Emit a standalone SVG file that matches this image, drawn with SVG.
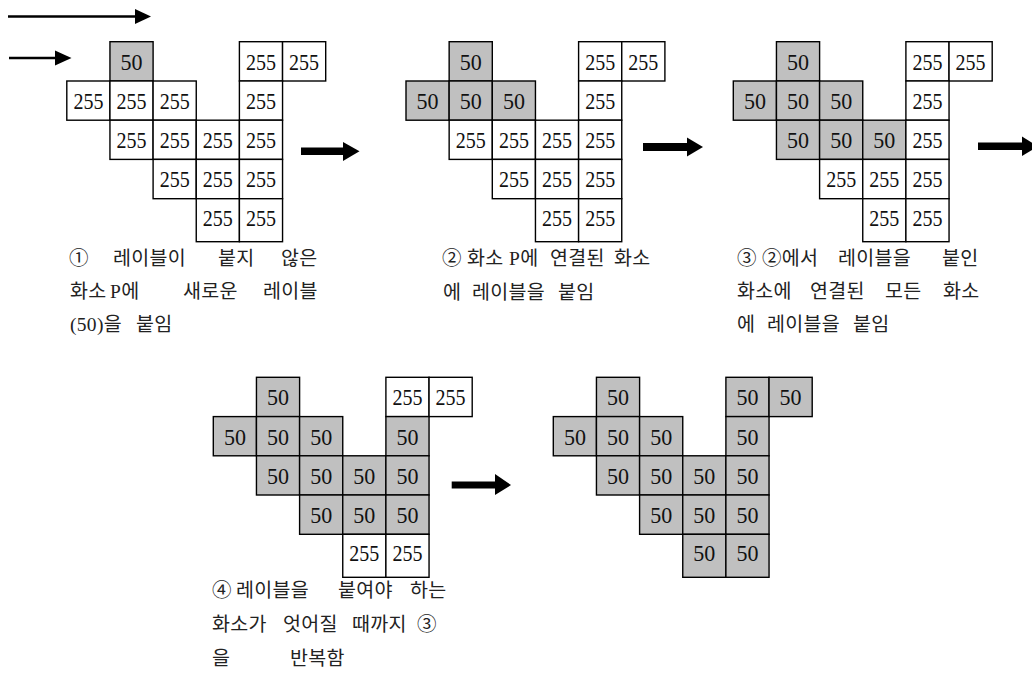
<svg xmlns="http://www.w3.org/2000/svg" width="1032" height="675" viewBox="0 0 1032 675">
<style>
.w{fill:#ffffff;stroke:#000;stroke-width:1.4}
.g{fill:#c0c0c0;stroke:#000;stroke-width:1.4}
.n{font-family:"Liberation Serif","Times New Roman",serif;font-size:24px;fill:#111;text-anchor:middle}
.cap{font-family:"Liberation Serif","Noto Sans CJK KR",serif;font-size:19.5px;letter-spacing:0.3px;fill:#222}
.ln{stroke:#000;stroke-width:2.6;fill:none}
.hd{fill:#000}
</style>
<rect width="1032" height="675" fill="#ffffff"/>

<g id="panel1" transform="translate(66.8,41.7)">
<rect class="g" x="43.15" y="0" width="43.15" height="39.3"/>
<rect class="w" x="172.6" y="0" width="43.15" height="39.3"/>
<rect class="w" x="215.75" y="0" width="43.15" height="39.3"/>
<rect class="w" x="0" y="39.3" width="43.15" height="39.2"/>
<rect class="w" x="43.15" y="39.3" width="43.15" height="39.2"/>
<rect class="w" x="86.3" y="39.3" width="43.15" height="39.2"/>
<rect class="w" x="172.6" y="39.3" width="43.15" height="39.2"/>
<rect class="w" x="43.15" y="78.5" width="43.15" height="39.2"/>
<rect class="w" x="86.3" y="78.5" width="43.15" height="39.2"/>
<rect class="w" x="129.45" y="78.5" width="43.15" height="39.2"/>
<rect class="w" x="172.6" y="78.5" width="43.15" height="39.2"/>
<rect class="w" x="86.3" y="117.7" width="43.15" height="39.3"/>
<rect class="w" x="129.45" y="117.7" width="43.15" height="39.3"/>
<rect class="w" x="172.6" y="117.7" width="43.15" height="39.3"/>
<rect class="w" x="129.45" y="157" width="43.15" height="43"/>
<rect class="w" x="172.6" y="157" width="43.15" height="43"/>
<text class="n" x="64.7" y="28" textLength="22" lengthAdjust="spacingAndGlyphs">50</text>
<text class="n" x="194.2" y="28" textLength="30" lengthAdjust="spacingAndGlyphs">255</text>
<text class="n" x="237.3" y="28" textLength="30" lengthAdjust="spacingAndGlyphs">255</text>
<text class="n" x="21.6" y="67.3" textLength="30" lengthAdjust="spacingAndGlyphs">255</text>
<text class="n" x="64.7" y="67.3" textLength="30" lengthAdjust="spacingAndGlyphs">255</text>
<text class="n" x="107.9" y="67.3" textLength="30" lengthAdjust="spacingAndGlyphs">255</text>
<text class="n" x="194.2" y="67.3" textLength="30" lengthAdjust="spacingAndGlyphs">255</text>
<text class="n" x="64.7" y="106.5" textLength="30" lengthAdjust="spacingAndGlyphs">255</text>
<text class="n" x="107.9" y="106.5" textLength="30" lengthAdjust="spacingAndGlyphs">255</text>
<text class="n" x="151" y="106.5" textLength="30" lengthAdjust="spacingAndGlyphs">255</text>
<text class="n" x="194.2" y="106.5" textLength="30" lengthAdjust="spacingAndGlyphs">255</text>
<text class="n" x="107.9" y="145.7" textLength="30" lengthAdjust="spacingAndGlyphs">255</text>
<text class="n" x="151" y="145.7" textLength="30" lengthAdjust="spacingAndGlyphs">255</text>
<text class="n" x="194.2" y="145.7" textLength="30" lengthAdjust="spacingAndGlyphs">255</text>
<text class="n" x="151" y="184" textLength="30" lengthAdjust="spacingAndGlyphs">255</text>
<text class="n" x="194.2" y="184" textLength="30" lengthAdjust="spacingAndGlyphs">255</text>
</g>
<g id="caption1" class="cap">
<text x="69" y="265">①</text><text x="113" y="265">레이블이</text><text x="218" y="265">붙지</text><text x="281" y="265">않은</text>
<text x="70" y="298">화소</text><text x="110" y="298">P에</text><text x="183" y="298">새로운</text><text x="263" y="298">레이블</text>
<text x="70" y="331">(50)을</text><text x="136" y="331">붙임</text>
</g>

<g id="panel2" transform="translate(406,41.7)">
<rect class="g" x="43.15" y="0" width="43.15" height="39.3"/>
<rect class="w" x="172.6" y="0" width="43.15" height="39.3"/>
<rect class="w" x="215.75" y="0" width="43.15" height="39.3"/>
<rect class="g" x="0" y="39.3" width="43.15" height="39.2"/>
<rect class="g" x="43.15" y="39.3" width="43.15" height="39.2"/>
<rect class="g" x="86.3" y="39.3" width="43.15" height="39.2"/>
<rect class="w" x="172.6" y="39.3" width="43.15" height="39.2"/>
<rect class="w" x="43.15" y="78.5" width="43.15" height="39.2"/>
<rect class="w" x="86.3" y="78.5" width="43.15" height="39.2"/>
<rect class="w" x="129.45" y="78.5" width="43.15" height="39.2"/>
<rect class="w" x="172.6" y="78.5" width="43.15" height="39.2"/>
<rect class="w" x="86.3" y="117.7" width="43.15" height="39.3"/>
<rect class="w" x="129.45" y="117.7" width="43.15" height="39.3"/>
<rect class="w" x="172.6" y="117.7" width="43.15" height="39.3"/>
<rect class="w" x="129.45" y="157" width="43.15" height="43"/>
<rect class="w" x="172.6" y="157" width="43.15" height="43"/>
<text class="n" x="64.7" y="28" textLength="22" lengthAdjust="spacingAndGlyphs">50</text>
<text class="n" x="194.2" y="28" textLength="30" lengthAdjust="spacingAndGlyphs">255</text>
<text class="n" x="237.3" y="28" textLength="30" lengthAdjust="spacingAndGlyphs">255</text>
<text class="n" x="21.6" y="67.3" textLength="22" lengthAdjust="spacingAndGlyphs">50</text>
<text class="n" x="64.7" y="67.3" textLength="22" lengthAdjust="spacingAndGlyphs">50</text>
<text class="n" x="107.9" y="67.3" textLength="22" lengthAdjust="spacingAndGlyphs">50</text>
<text class="n" x="194.2" y="67.3" textLength="30" lengthAdjust="spacingAndGlyphs">255</text>
<text class="n" x="64.7" y="106.5" textLength="30" lengthAdjust="spacingAndGlyphs">255</text>
<text class="n" x="107.9" y="106.5" textLength="30" lengthAdjust="spacingAndGlyphs">255</text>
<text class="n" x="151" y="106.5" textLength="30" lengthAdjust="spacingAndGlyphs">255</text>
<text class="n" x="194.2" y="106.5" textLength="30" lengthAdjust="spacingAndGlyphs">255</text>
<text class="n" x="107.9" y="145.7" textLength="30" lengthAdjust="spacingAndGlyphs">255</text>
<text class="n" x="151" y="145.7" textLength="30" lengthAdjust="spacingAndGlyphs">255</text>
<text class="n" x="194.2" y="145.7" textLength="30" lengthAdjust="spacingAndGlyphs">255</text>
<text class="n" x="151" y="184" textLength="30" lengthAdjust="spacingAndGlyphs">255</text>
<text class="n" x="194.2" y="184" textLength="30" lengthAdjust="spacingAndGlyphs">255</text>
</g>
<g id="caption2" class="cap">
<text x="442" y="265">②</text><text x="467" y="265">화소</text><text x="509" y="265">P에</text><text x="550" y="265">연결된</text><text x="614" y="265">화소</text>
<text x="443" y="299">에</text><text x="472" y="299">레이블을</text><text x="558" y="299">붙임</text>
</g>

<g id="panel3" transform="translate(733.3,41.7)">
<rect class="g" x="43.15" y="0" width="43.15" height="39.3"/>
<rect class="w" x="172.6" y="0" width="43.15" height="39.3"/>
<rect class="w" x="215.75" y="0" width="43.15" height="39.3"/>
<rect class="g" x="0" y="39.3" width="43.15" height="39.2"/>
<rect class="g" x="43.15" y="39.3" width="43.15" height="39.2"/>
<rect class="g" x="86.3" y="39.3" width="43.15" height="39.2"/>
<rect class="w" x="172.6" y="39.3" width="43.15" height="39.2"/>
<rect class="g" x="43.15" y="78.5" width="43.15" height="39.2"/>
<rect class="g" x="86.3" y="78.5" width="43.15" height="39.2"/>
<rect class="g" x="129.45" y="78.5" width="43.15" height="39.2"/>
<rect class="w" x="172.6" y="78.5" width="43.15" height="39.2"/>
<rect class="w" x="86.3" y="117.7" width="43.15" height="39.3"/>
<rect class="w" x="129.45" y="117.7" width="43.15" height="39.3"/>
<rect class="w" x="172.6" y="117.7" width="43.15" height="39.3"/>
<rect class="w" x="129.45" y="157" width="43.15" height="43"/>
<rect class="w" x="172.6" y="157" width="43.15" height="43"/>
<text class="n" x="64.7" y="28" textLength="22" lengthAdjust="spacingAndGlyphs">50</text>
<text class="n" x="194.2" y="28" textLength="30" lengthAdjust="spacingAndGlyphs">255</text>
<text class="n" x="237.3" y="28" textLength="30" lengthAdjust="spacingAndGlyphs">255</text>
<text class="n" x="21.6" y="67.3" textLength="22" lengthAdjust="spacingAndGlyphs">50</text>
<text class="n" x="64.7" y="67.3" textLength="22" lengthAdjust="spacingAndGlyphs">50</text>
<text class="n" x="107.9" y="67.3" textLength="22" lengthAdjust="spacingAndGlyphs">50</text>
<text class="n" x="194.2" y="67.3" textLength="30" lengthAdjust="spacingAndGlyphs">255</text>
<text class="n" x="64.7" y="106.5" textLength="22" lengthAdjust="spacingAndGlyphs">50</text>
<text class="n" x="107.9" y="106.5" textLength="22" lengthAdjust="spacingAndGlyphs">50</text>
<text class="n" x="151" y="106.5" textLength="22" lengthAdjust="spacingAndGlyphs">50</text>
<text class="n" x="194.2" y="106.5" textLength="30" lengthAdjust="spacingAndGlyphs">255</text>
<text class="n" x="107.9" y="145.7" textLength="30" lengthAdjust="spacingAndGlyphs">255</text>
<text class="n" x="151" y="145.7" textLength="30" lengthAdjust="spacingAndGlyphs">255</text>
<text class="n" x="194.2" y="145.7" textLength="30" lengthAdjust="spacingAndGlyphs">255</text>
<text class="n" x="151" y="184" textLength="30" lengthAdjust="spacingAndGlyphs">255</text>
<text class="n" x="194.2" y="184" textLength="30" lengthAdjust="spacingAndGlyphs">255</text>
</g>
<g id="caption3" class="cap">
<text x="737" y="265">③</text><text x="762" y="265">②에서</text><text x="838" y="265">레이블을</text><text x="942" y="265">붙인</text>
<text x="737" y="298">화소에</text><text x="810" y="298">연결된</text><text x="885" y="298">모든</text><text x="943" y="298">화소</text>
<text x="737" y="331">에</text><text x="767" y="331">레이블을</text><text x="853" y="331">붙임</text>
</g>

<g id="panel4" transform="translate(213.3,377.3)">
<rect class="g" x="43.15" y="0" width="43.15" height="39.3"/>
<rect class="w" x="172.6" y="0" width="43.15" height="39.3"/>
<rect class="w" x="215.75" y="0" width="43.15" height="39.3"/>
<rect class="g" x="0" y="39.3" width="43.15" height="39.2"/>
<rect class="g" x="43.15" y="39.3" width="43.15" height="39.2"/>
<rect class="g" x="86.3" y="39.3" width="43.15" height="39.2"/>
<rect class="g" x="172.6" y="39.3" width="43.15" height="39.2"/>
<rect class="g" x="43.15" y="78.5" width="43.15" height="39.2"/>
<rect class="g" x="86.3" y="78.5" width="43.15" height="39.2"/>
<rect class="g" x="129.45" y="78.5" width="43.15" height="39.2"/>
<rect class="g" x="172.6" y="78.5" width="43.15" height="39.2"/>
<rect class="g" x="86.3" y="117.7" width="43.15" height="39.3"/>
<rect class="g" x="129.45" y="117.7" width="43.15" height="39.3"/>
<rect class="g" x="172.6" y="117.7" width="43.15" height="39.3"/>
<rect class="w" x="129.45" y="157" width="43.15" height="43"/>
<rect class="w" x="172.6" y="157" width="43.15" height="43"/>
<text class="n" x="64.7" y="28" textLength="22" lengthAdjust="spacingAndGlyphs">50</text>
<text class="n" x="194.2" y="28" textLength="30" lengthAdjust="spacingAndGlyphs">255</text>
<text class="n" x="237.3" y="28" textLength="30" lengthAdjust="spacingAndGlyphs">255</text>
<text class="n" x="21.6" y="67.3" textLength="22" lengthAdjust="spacingAndGlyphs">50</text>
<text class="n" x="64.7" y="67.3" textLength="22" lengthAdjust="spacingAndGlyphs">50</text>
<text class="n" x="107.9" y="67.3" textLength="22" lengthAdjust="spacingAndGlyphs">50</text>
<text class="n" x="194.2" y="67.3" textLength="22" lengthAdjust="spacingAndGlyphs">50</text>
<text class="n" x="64.7" y="106.5" textLength="22" lengthAdjust="spacingAndGlyphs">50</text>
<text class="n" x="107.9" y="106.5" textLength="22" lengthAdjust="spacingAndGlyphs">50</text>
<text class="n" x="151" y="106.5" textLength="22" lengthAdjust="spacingAndGlyphs">50</text>
<text class="n" x="194.2" y="106.5" textLength="22" lengthAdjust="spacingAndGlyphs">50</text>
<text class="n" x="107.9" y="145.7" textLength="22" lengthAdjust="spacingAndGlyphs">50</text>
<text class="n" x="151" y="145.7" textLength="22" lengthAdjust="spacingAndGlyphs">50</text>
<text class="n" x="194.2" y="145.7" textLength="22" lengthAdjust="spacingAndGlyphs">50</text>
<text class="n" x="151" y="184" textLength="30" lengthAdjust="spacingAndGlyphs">255</text>
<text class="n" x="194.2" y="184" textLength="30" lengthAdjust="spacingAndGlyphs">255</text>
</g>
<g id="caption4" class="cap">
<text x="212" y="597">④</text><text x="236" y="597">레이블을</text><text x="338" y="597">붙여야</text><text x="410" y="597">하는</text>
<text x="212" y="631">화소가</text><text x="283" y="631">엇어질</text><text x="352" y="631">때까지</text><text x="417" y="631">③</text>
<text x="212" y="665">을</text><text x="290" y="665">반복함</text>
</g>

<g id="panel5" transform="translate(553.3,377.3)">
<rect class="g" x="43.15" y="0" width="43.15" height="39.3"/>
<rect class="g" x="172.6" y="0" width="43.15" height="39.3"/>
<rect class="g" x="215.75" y="0" width="43.15" height="39.3"/>
<rect class="g" x="0" y="39.3" width="43.15" height="39.2"/>
<rect class="g" x="43.15" y="39.3" width="43.15" height="39.2"/>
<rect class="g" x="86.3" y="39.3" width="43.15" height="39.2"/>
<rect class="g" x="172.6" y="39.3" width="43.15" height="39.2"/>
<rect class="g" x="43.15" y="78.5" width="43.15" height="39.2"/>
<rect class="g" x="86.3" y="78.5" width="43.15" height="39.2"/>
<rect class="g" x="129.45" y="78.5" width="43.15" height="39.2"/>
<rect class="g" x="172.6" y="78.5" width="43.15" height="39.2"/>
<rect class="g" x="86.3" y="117.7" width="43.15" height="39.3"/>
<rect class="g" x="129.45" y="117.7" width="43.15" height="39.3"/>
<rect class="g" x="172.6" y="117.7" width="43.15" height="39.3"/>
<rect class="g" x="129.45" y="157" width="43.15" height="43"/>
<rect class="g" x="172.6" y="157" width="43.15" height="43"/>
<text class="n" x="64.7" y="28" textLength="22" lengthAdjust="spacingAndGlyphs">50</text>
<text class="n" x="194.2" y="28" textLength="22" lengthAdjust="spacingAndGlyphs">50</text>
<text class="n" x="237.3" y="28" textLength="22" lengthAdjust="spacingAndGlyphs">50</text>
<text class="n" x="21.6" y="67.3" textLength="22" lengthAdjust="spacingAndGlyphs">50</text>
<text class="n" x="64.7" y="67.3" textLength="22" lengthAdjust="spacingAndGlyphs">50</text>
<text class="n" x="107.9" y="67.3" textLength="22" lengthAdjust="spacingAndGlyphs">50</text>
<text class="n" x="194.2" y="67.3" textLength="22" lengthAdjust="spacingAndGlyphs">50</text>
<text class="n" x="64.7" y="106.5" textLength="22" lengthAdjust="spacingAndGlyphs">50</text>
<text class="n" x="107.9" y="106.5" textLength="22" lengthAdjust="spacingAndGlyphs">50</text>
<text class="n" x="151" y="106.5" textLength="22" lengthAdjust="spacingAndGlyphs">50</text>
<text class="n" x="194.2" y="106.5" textLength="22" lengthAdjust="spacingAndGlyphs">50</text>
<text class="n" x="107.9" y="145.7" textLength="22" lengthAdjust="spacingAndGlyphs">50</text>
<text class="n" x="151" y="145.7" textLength="22" lengthAdjust="spacingAndGlyphs">50</text>
<text class="n" x="194.2" y="145.7" textLength="22" lengthAdjust="spacingAndGlyphs">50</text>
<text class="n" x="151" y="184" textLength="22" lengthAdjust="spacingAndGlyphs">50</text>
<text class="n" x="194.2" y="184" textLength="22" lengthAdjust="spacingAndGlyphs">50</text>
</g>

<g id="connectors">
<line class="ln" x1="8" y1="16.5" x2="137" y2="16.5"/>
<polygon class="hd" points="135,9 151,16.5 135,24"/>
<line class="ln" x1="9" y1="58" x2="57" y2="58"/>
<polygon class="hd" points="55,50.5 71.5,58 55,65.5"/>
<rect class="hd" x="301" y="147.5" width="43" height="7.5"/>
<polygon class="hd" points="343,142 359.5,151.3 343,161"/>
<rect class="hd" x="643" y="143" width="45" height="8"/>
<polygon class="hd" points="687,137.5 703,147 687,156.5"/>
<rect class="hd" x="978" y="142.5" width="45" height="7.5"/>
<polygon class="hd" points="1022,136.5 1038,146.3 1022,156"/>
<rect class="hd" x="451.7" y="481.5" width="44" height="7"/>
<polygon class="hd" points="495,474 511,485 495,495"/>
</g>
</svg>
